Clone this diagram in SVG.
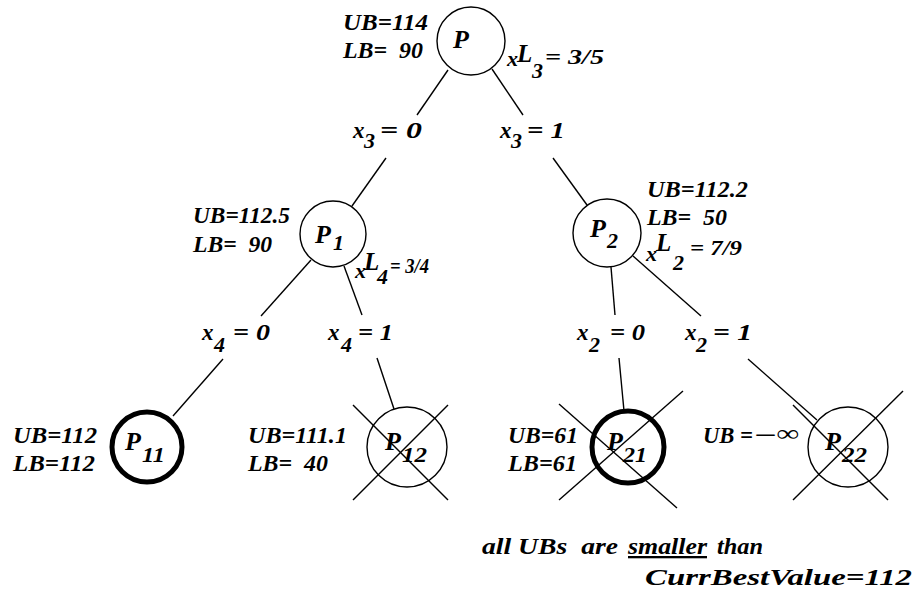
<svg xmlns="http://www.w3.org/2000/svg" width="917" height="603" viewBox="0 0 917 603" font-family="'Liberation Serif', 'DejaVu Serif', serif" font-weight="bold" font-style="italic">
  <style>
    text { font-family: 'Liberation Serif', 'DejaVu Serif', serif; font-weight: bold; font-style: italic; font-size: 23px; fill: #000; white-space: pre; }
    .nm { font-size: 26px; }
    .sb { font-size: 22px; }
    .fr { font-size: 21px; }
    .up { font-size: 25px; }
    .thin { fill: none; stroke: #000; stroke-width: 1.4; }
    .best { fill: none; stroke: #000; stroke-width: 5; }
    .edge { stroke: #000; stroke-width: 1.4; fill: none; }
    .cut { stroke: #000; stroke-width: 1.4; }
  </style>
  <rect width="917" height="603" fill="#fff"/>

  <!-- branching edges, each split around its x = value label -->
  <g id="connectors">
    <line class="edge" x1="448" y1="70" x2="417" y2="115"/>
    <line class="edge" x1="386" y1="158" x2="352" y2="206"/>
    <text x="353" y="138">x</text><text class="sb" x="364" y="148">3</text><text x="380" y="138" textLength="42" lengthAdjust="spacingAndGlyphs">= 0</text>

    <line class="edge" x1="492" y1="69" x2="523" y2="115"/>
    <line class="edge" x1="553" y1="158" x2="587" y2="205"/>
    <text x="500" y="138">x</text><text class="sb" x="511" y="148">3</text><text x="527" y="138" textLength="38" lengthAdjust="spacingAndGlyphs">= 1</text>

    <line class="edge" x1="311" y1="260" x2="261" y2="316"/>
    <line class="edge" x1="223" y1="359" x2="173" y2="416"/>
    <text x="202" y="340">x</text><text class="sb" x="214" y="352">4</text><text x="233" y="340" textLength="37" lengthAdjust="spacingAndGlyphs">= 0</text>

    <line class="edge" x1="344" y1="266" x2="362" y2="315"/>
    <line class="edge" x1="377" y1="358" x2="394" y2="409"/>
    <text x="328" y="340">x</text><text class="sb" x="341" y="352">4</text><text x="358" y="340" textLength="35" lengthAdjust="spacingAndGlyphs">= 1</text>

    <line class="edge" x1="611" y1="267" x2="615" y2="315"/>
    <line class="edge" x1="619" y1="358" x2="624" y2="411"/>
    <text x="577" y="340">x</text><text class="sb" x="589" y="352">2</text><text x="610" y="340" textLength="35" lengthAdjust="spacingAndGlyphs">= 0</text>

    <line class="edge" x1="633" y1="256" x2="701" y2="316"/>
    <line class="edge" x1="748" y1="359" x2="817" y2="420"/>
    <text x="685" y="340">x</text><text class="sb" x="696" y="352">2</text><text x="713" y="340" textLength="39" lengthAdjust="spacingAndGlyphs">= 1</text>
  </g>

  <!-- root problem -->
  <g id="P">
    <circle class="thin" cx="471" cy="41" r="34"/>
    <text class="nm" x="453" y="48">P</text>
    <text x="343" y="30" textLength="85" lengthAdjust="spacingAndGlyphs">UB=114</text>
    <text x="343" y="58" textLength="80" lengthAdjust="spacingAndGlyphs">LB=  90</text>
    <text class="sb" x="507" y="66">x</text><text class="up" x="517" y="62">L</text><text class="sb" x="532" y="78">3</text><text class="fr" x="545" y="64" textLength="59" lengthAdjust="spacingAndGlyphs">= 3/5</text>
  </g>

  <g id="P1">
    <circle class="thin" cx="333" cy="234" r="33"/>
    <text class="nm" x="315" y="243">P</text><text class="sb" x="333" y="250">1</text>
    <text x="193" y="223" textLength="97" lengthAdjust="spacingAndGlyphs">UB=112.5</text>
    <text x="193" y="252" textLength="79" lengthAdjust="spacingAndGlyphs">LB=  90</text>
    <text class="sb" x="355" y="278">x</text><text class="up" x="364" y="270">L</text><text class="sb" x="377" y="284">4</text><text class="fr" x="390" y="273" textLength="39" lengthAdjust="spacingAndGlyphs">= 3/4</text>
  </g>

  <g id="P2">
    <circle class="thin" cx="607" cy="233" r="34"/>
    <text class="nm" x="590" y="237">P</text><text class="sb" x="607" y="248">2</text>
    <text x="647" y="197" textLength="101" lengthAdjust="spacingAndGlyphs">UB=112.2</text>
    <text x="647" y="225" textLength="80" lengthAdjust="spacingAndGlyphs">LB=  50</text>
    <text class="sb" x="646" y="261">x</text><text class="up" x="656" y="251">L</text><text class="sb" x="673" y="270">2</text><text class="fr" x="690" y="255" textLength="52" lengthAdjust="spacingAndGlyphs">= 7/9</text>
  </g>

  <!-- leaves -->
  <g id="P11">
    <circle class="best" cx="147" cy="447" r="35"/>
    <text class="nm" x="125" y="450">P</text><text class="sb" x="142" y="462" textLength="23" lengthAdjust="spacingAndGlyphs">11</text>
    <text x="13" y="443" textLength="84" lengthAdjust="spacingAndGlyphs">UB=112</text>
    <text x="13" y="471" textLength="82" lengthAdjust="spacingAndGlyphs">LB=112</text>
  </g>

  <g id="P12">
    <circle class="thin" cx="407" cy="447" r="40"/>
    <text class="nm" x="385" y="450">P</text><text class="sb" x="402" y="462" textLength="25" lengthAdjust="spacingAndGlyphs">12</text>
    <text x="248" y="443" textLength="99" lengthAdjust="spacingAndGlyphs">UB=111.1</text>
    <text x="248" y="471" textLength="80" lengthAdjust="spacingAndGlyphs">LB=  40</text>
    <line class="cut" x1="353" y1="405" x2="448" y2="500"/>
    <line class="cut" x1="448" y1="405" x2="353" y2="500"/>
  </g>

  <g id="P21">
    <circle class="best" cx="628" cy="447" r="36"/>
    <text class="nm" x="607" y="450">P</text><text class="sb" x="623" y="462" textLength="24" lengthAdjust="spacingAndGlyphs">21</text>
    <text x="508" y="443" textLength="70" lengthAdjust="spacingAndGlyphs">UB=61</text>
    <text x="508" y="471" textLength="69" lengthAdjust="spacingAndGlyphs">LB=61</text>
    <line class="cut" x1="559" y1="404" x2="677" y2="508"/>
    <line class="cut" x1="683" y1="391" x2="559" y2="500"/>
  </g>

  <g id="P22">
    <circle class="thin" cx="848" cy="447" r="40"/>
    <text class="nm" x="825" y="450">P</text><text class="sb" x="842" y="462" textLength="25" lengthAdjust="spacingAndGlyphs">22</text>
    <text x="703" y="443" textLength="50" lengthAdjust="spacingAndGlyphs">UB =</text>
    <text x="753" y="443" textLength="24" lengthAdjust="spacingAndGlyphs">−</text>
    <text x="776" y="441" font-size="32" textLength="23" lengthAdjust="spacingAndGlyphs">∞</text>
    <line class="cut" x1="793" y1="405" x2="888" y2="500"/>
    <line class="cut" x1="903" y1="391" x2="793" y2="500"/>
  </g>

  <!-- pruning note -->
  <g id="note">
    <text x="482" y="554" textLength="136" lengthAdjust="spacingAndGlyphs">all UBs  are</text>
    <text x="628" y="554" textLength="79" lengthAdjust="spacingAndGlyphs" text-decoration="underline">smaller</text>
    <text x="717" y="554" textLength="46" lengthAdjust="spacingAndGlyphs">than</text>
    <text x="645" y="585" textLength="267" lengthAdjust="spacingAndGlyphs">CurrBestValue=112</text>
  </g>
</svg>
